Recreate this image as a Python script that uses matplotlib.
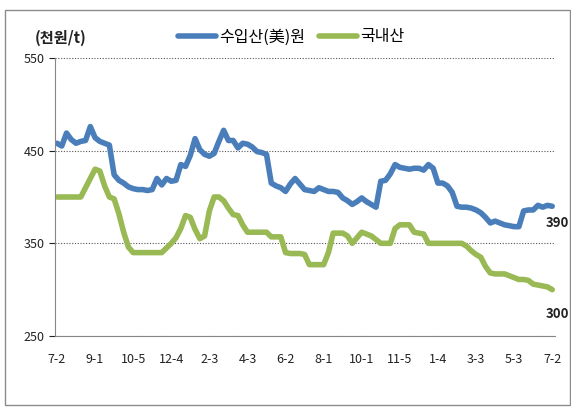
#!/usr/bin/env python3
"""Weekly price: imported (US) vs domestic, thousand won per ton."""
import matplotlib
matplotlib.use("Agg")
import matplotlib.pyplot as plt
from matplotlib.patches import Rectangle

plt.rcParams["font.family"] = ["Noto Sans CJK KR", "DejaVu Sans"]

tick_labels = ["7-2", "9-1", "10-5", "12-4", "2-3", "4-3", "6-2",
               "8-1", "10-1", "11-5", "1-4", "3-3", "5-3", "7-2"]

imported = [458, 455, 469, 462, 458, 460, 461, 476, 464, 460,
            458, 456, 424, 418, 415, 411, 409, 408, 408, 407,
            408, 420, 413, 420, 417, 418, 435, 433, 445, 463,
            451, 446, 444, 447, 460, 472, 461, 461, 453, 458,
            457, 454, 449, 448, 446, 415, 412, 410, 406, 414,
            420, 414, 408, 407, 406, 410, 408, 406, 406, 405,
            399, 396, 392, 395, 399, 395, 392, 389, 417, 418,
            425, 435, 432, 431, 430, 431, 431, 429, 435, 431,
            415, 415, 412, 405, 390, 389, 389, 388, 386, 383,
            378, 372, 374, 372, 370, 369, 368, 368, 385, 386,
            386, 391, 389, 391, 390]

domestic = [400, 400, 400, 400, 400, 400, 410, 420, 430, 428,
            412, 400, 398, 382, 362, 346, 340, 340, 340, 340,
            340, 340, 340, 345, 350, 356, 366, 380, 378, 365,
            355, 358, 385, 400, 400, 396, 388, 381, 380, 370,
            362, 362, 362, 362, 362, 357, 357, 357, 340, 339,
            339, 339, 338, 327, 327, 327, 327, 340, 361, 361,
            361, 358, 350, 356, 362, 360, 358, 354, 350, 350,
            350, 366, 370, 370, 370, 362, 361, 360, 350, 350,
            350, 350, 350, 350, 350, 350, 347, 342, 338, 335,
            325, 318, 317, 317, 317, 315, 313, 311, 311, 310,
            306, 305, 304, 303, 300]

x = list(range(len(imported)))

fig = plt.figure(figsize=(5.71, 4.09), dpi=100)
fig.patches.append(Rectangle((5 / 571, 1 - 405 / 409), 564.5 / 571, 395 / 409,
                             transform=fig.transFigure, fill=False,
                             edgecolor="#8c8c8c", linewidth=1))
ax = fig.add_axes([54.6 / 571, 1 - 336 / 409, 500 / 571, 278 / 409])

ax.plot(x, imported, color="#4a7ebb", linewidth=4, label="수입산(美)원",
        solid_joinstyle="round", solid_capstyle="round")
ax.plot(x, domestic, color="#98b954", linewidth=4, label="국내산",
        solid_joinstyle="round", solid_capstyle="round")

ax.set_xlim(-0.5, len(x) - 0.5)
ax.set_ylim(250, 550)
ax.set_yticks([250, 350, 450, 550])
ax.set_xticks(range(0, len(x), 8))
ax.set_xticklabels(tick_labels)
ax.tick_params(axis="x", length=0, pad=12, labelsize=9, colors="#222222")
ax.tick_params(axis="y", length=4, width=0.8, direction="out", pad=3,
               labelsize=9, colors="#222222")
ax.grid(axis="y", linestyle=(0, (1, 1.5)), color="#555555", linewidth=0.8)
ax.set_axisbelow(True)
for side in ("top", "right"):
    ax.spines[side].set_visible(False)
for side in ("left", "bottom"):
    ax.spines[side].set_color("#868686")

ax.annotate(str(imported[-1]), (x[-1], imported[-1]), xytext=(-5, -12),
            textcoords="offset points", ha="left", va="center",
            fontsize=9.5, fontweight="bold", color="#222222", annotation_clip=False)
ax.annotate(str(domestic[-1]), (x[-1], domestic[-1]), xytext=(-5, -17.5),
            textcoords="offset points", ha="left", va="center",
            fontsize=9.5, fontweight="bold", color="#222222", annotation_clip=False)

fig.text(35 / 571, 1 - 38 / 409, "(천원/t)", fontsize=11, fontweight="bold",
         va="center", ha="left", color="#222222")
fig.legend(loc="center", bbox_to_anchor=(291 / 571, 1 - 37 / 409), ncol=2,
           frameon=False, fontsize=11.5, handlelength=2.4, handletextpad=0.15,
           columnspacing=0.9)

plt.savefig("out.png", dpi=100)
print("wrote out.png")
